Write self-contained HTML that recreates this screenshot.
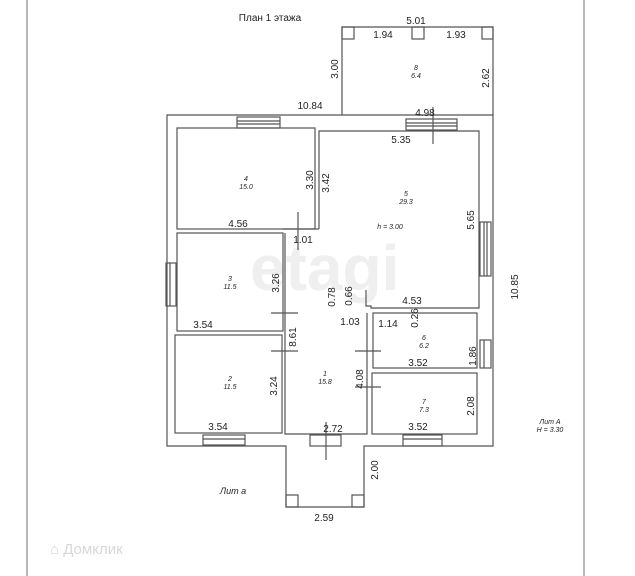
<!DOCTYPE html>
<html><head><meta charset="utf-8"><style>
body{margin:0;background:#fff}
svg{display:block}
text{font-family:"Liberation Sans",sans-serif;fill:#222}
.d{font-size:10px}
.s{font-size:7px;font-style:italic}
</style></head><body>
<svg width="635" height="576" viewBox="0 0 635 576" xmlns="http://www.w3.org/2000/svg">
<text x="250" y="290" font-size="64" font-weight="bold" style="fill:#efefef">etagi</text>
<g stroke="#555" fill="none" stroke-width="1.2">
<line x1="27" y1="0" x2="27" y2="576" stroke="#888"/>
<line x1="584" y1="0" x2="584" y2="576" stroke="#888"/>
<polyline points="342,115 167,115 167,446 286,446 286,507 364,507 364,446 493,446 493,115 342,115"/>
<polyline points="342,115 342,27 493,27 493,115"/>
<rect x="177" y="128" width="138" height="101"/>
<polyline points="319,229 319,131 479,131 479,308 371,308 371,306 366,306 366,290"/>
<rect x="177" y="233" width="106" height="98"/>
<rect x="175" y="335" width="107" height="98"/>
<polyline points="285,233 285,434 367,434 367,313"/>
<rect x="373" y="313" width="104" height="55"/>
<rect x="372" y="373" width="105" height="61"/>
<line x1="283" y1="229" x2="319" y2="229"/>
<rect x="237" y="117" width="43" height="11"/><line x1="237" y1="121" x2="280" y2="121"/><line x1="237" y1="124" x2="280" y2="124"/>
<rect x="406" y="119" width="51" height="11"/><line x1="406" y1="123" x2="457" y2="123"/><line x1="406" y1="126" x2="457" y2="126"/>
<rect x="166" y="263" width="10" height="43"/><line x1="170" y1="263" x2="170" y2="306"/>
<rect x="480" y="222" width="11" height="54"/><line x1="484" y1="222" x2="484" y2="276"/><line x1="487" y1="222" x2="487" y2="276"/>
<rect x="480" y="340" width="11" height="28"/><line x1="484" y1="340" x2="484" y2="368"/>
<rect x="203" y="435" width="42" height="10"/><line x1="203" y1="439" x2="245" y2="439"/>
<rect x="403" y="435" width="39" height="11"/><line x1="403" y1="439" x2="442" y2="439"/>
<rect x="310" y="435" width="31" height="11"/>
<rect x="342" y="27" width="12" height="12"/><rect x="412" y="27" width="12" height="12"/><rect x="482" y="27" width="11" height="12"/>
<rect x="286" y="495" width="12" height="12"/><rect x="352" y="495" width="12" height="12"/>
<line x1="433" y1="107" x2="433" y2="144"/>
<line x1="298" y1="212" x2="298" y2="250"/>
<line x1="271" y1="313" x2="298" y2="313"/><line x1="271" y1="351" x2="298" y2="351"/>
<line x1="355" y1="351" x2="381" y2="351"/><line x1="355" y1="387" x2="381" y2="387"/>
<line x1="326" y1="422" x2="326" y2="460"/>
</g>
<g class="d" text-anchor="middle">
<text x="270" y="21">План 1 этажа</text>
<text x="416" y="24">5.01</text>
<text x="383" y="38">1.94</text>
<text x="456" y="38">1.93</text>
<text x="310" y="109">10.84</text>
<text x="425" y="116">4.98</text>
<text x="401" y="143">5.35</text>
<text x="238" y="227">4.56</text>
<text x="303" y="243">1.01</text>
<text x="203" y="328">3.54</text>
<text x="218" y="430">3.54</text>
<text x="333" y="432">2.72</text>
<text x="418" y="430">3.52</text>
<text x="418" y="366">3.52</text>
<text x="412" y="304">4.53</text>
<text x="350" y="325">1.03</text>
<text x="388" y="327">1.14</text>
<text x="324" y="521">2.59</text>
</g>
<g class="d" text-anchor="middle">
<text transform="translate(338,69) rotate(-90)">3.00</text>
<text transform="translate(489,78) rotate(-90)">2.62</text>
<text transform="translate(313,180) rotate(-90)">3.30</text>
<text transform="translate(329,183) rotate(-90)">3.42</text>
<text transform="translate(474,220) rotate(-90)">5.65</text>
<text transform="translate(279,283) rotate(-90)">3.26</text>
<text transform="translate(296,337) rotate(-90)">8.61</text>
<text transform="translate(277,386) rotate(-90)">3.24</text>
<text transform="translate(335,297) rotate(-90)">0.78</text>
<text transform="translate(352,296) rotate(-90)">0.66</text>
<text transform="translate(418,318) rotate(-90)">0.26</text>
<text transform="translate(476,356) rotate(-90)">1.86</text>
<text transform="translate(363,379) rotate(-90)">4.08</text>
<text transform="translate(474,406) rotate(-90)">2.08</text>
<text transform="translate(518,287) rotate(-90)">10.85</text>
<text transform="translate(378,470) rotate(-90)">2.00</text>
</g>
<g class="s" text-anchor="middle">
<text x="416" y="70">8</text><text x="416" y="78">6.4</text>
<text x="246" y="181">4</text><text x="246" y="189">15.0</text>
<text x="406" y="196">5</text><text x="406" y="204">29.3</text>
<text x="390" y="229">h = 3.00</text>
<text x="230" y="281">3</text><text x="230" y="289">11.5</text>
<text x="230" y="381">2</text><text x="230" y="389">11.5</text>
<text x="325" y="376">1</text><text x="325" y="384">15.8</text>
<text x="424" y="340">6</text><text x="424" y="348">6.2</text>
<text x="424" y="404">7</text><text x="424" y="412">7.3</text>
<text x="233" y="494" font-size="9">Лит а</text>
<text x="550" y="424">Лит А</text><text x="550" y="432">H = 3.30</text>
</g>
<text x="50" y="554" font-size="15" style="fill:#d8d8d8">⌂ Домклик</text>
</svg>
</body></html>
